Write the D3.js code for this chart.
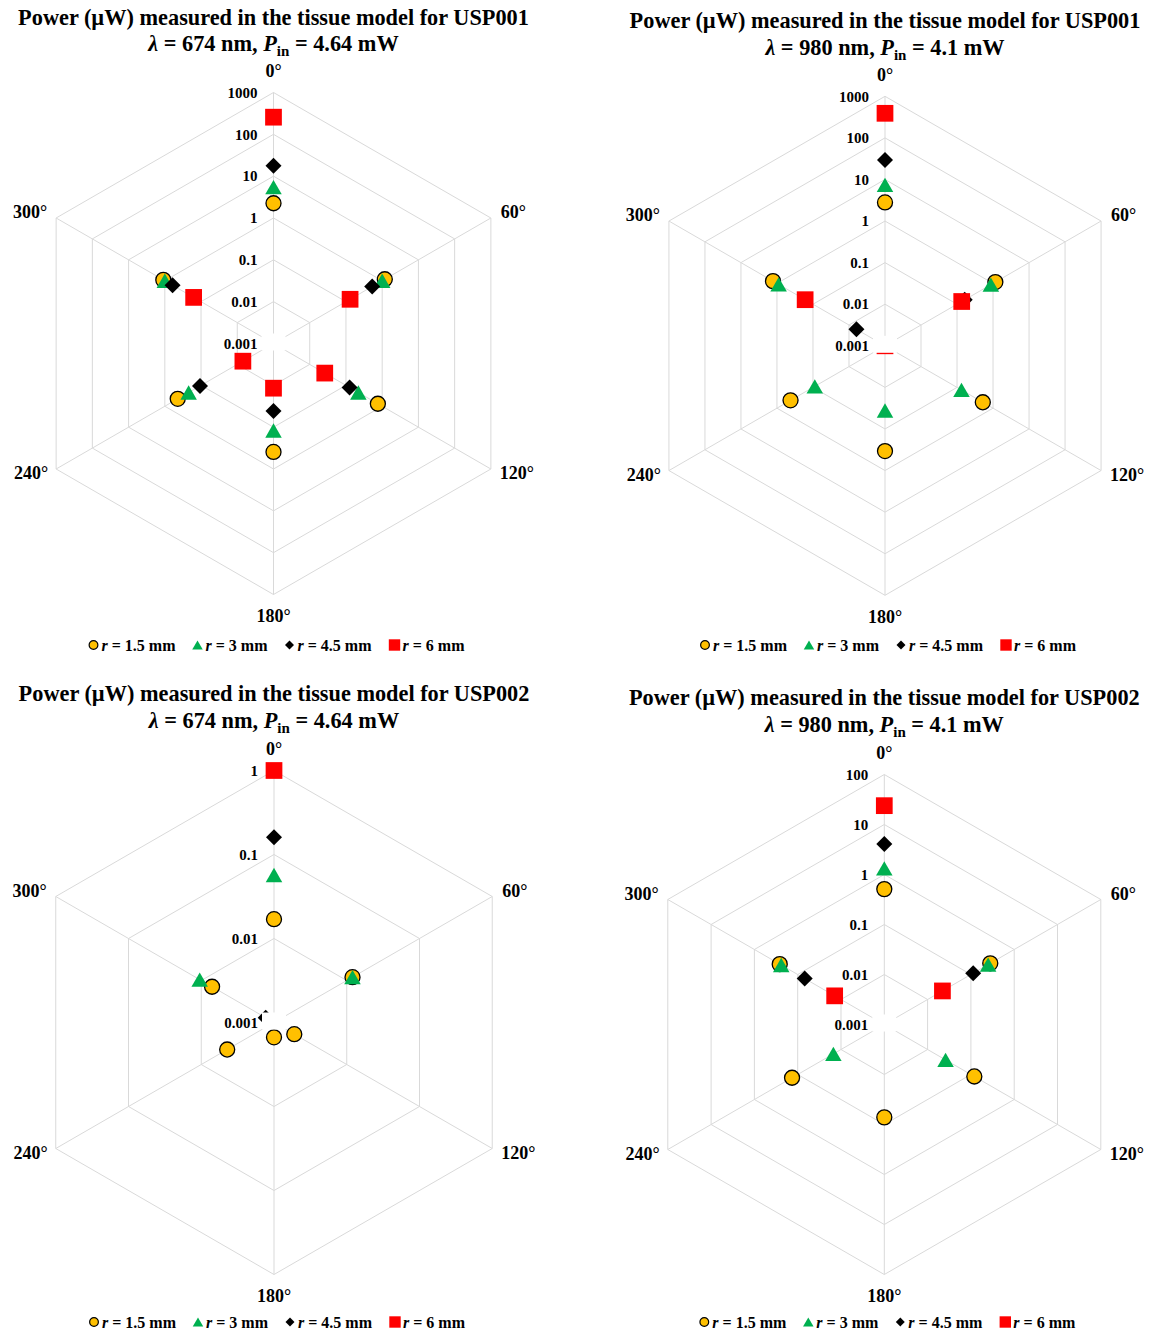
<!DOCTYPE html>
<html><head><meta charset="utf-8">
<script src="https://cdn.jsdelivr.net/npm/d3@7"></script>
<style>
html,body{margin:0;padding:0;background:#fff;}
svg text{font-family:"Liberation Serif","Times New Roman",serif;font-weight:bold;fill:#000;}
</style></head>
<body>
<svg id="c" width="1151" height="1334"></svg>
<script>
// ---------- data ----------
const angleLabels = ["0°","60°","120°","180°","240°","300°"];
const seriesLabels = ["1.5 mm","3 mm","4.5 mm","6 mm"];
const devices = ["USP001","USP001","USP002","USP002"];
const wavelengths = ["674","980","674","980"];
const inputPowers = ["4.64","4.1","4.64","4.1"];

const ticks001 = [0.001,0.01,0.1,1,10,100,1000];
const tickLabels001 = ["0.001","0.01","0.1","1","10","100","1000"];
const ticks002_674 = [0.001,0.01,0.1,1];
const tickLabels002_674 = ["0.001","0.01","0.1","1"];
const ticks002_980 = [0.001,0.01,0.1,1,10,100];
const tickLabels002_980 = ["0.001","0.01","0.1","1","10","100"];

// values per angle 0,60,120,180,240,300 (µW); null = not shown
const usp001_674_r15 = [2.25, 1.18, 0.76, 0.39, 0.44, 1.1];
const usp001_674_r3  = [5.5, 1.0, 0.22, 0.12, 0.22, 1.0];
const usp001_674_r45 = [17.7, 0.53, 0.126, 0.041, 0.107, 0.61];
const usp001_674_r6  = [257, 0.13, 0.026, 0.0117, 0.007, 0.16];

const usp001_980_r15 = [2.8, 1.16, 0.52, 0.34, 0.42, 1.29];
const usp001_980_r3  = [7.4, 0.87, 0.133, 0.036, 0.089, 0.9];
const usp001_980_r45 = [29.5, 0.163, null, null, null, 0.0062];
const usp001_980_r6  = [390, 0.135, null, 0.001, null, 0.165];

const usp002_674_r15 = [0.017, 0.012, 0.0019, 0.0015, 0.0044, 0.0071];
const usp002_674_r3  = [0.057, 0.012, null, null, null, 0.0105];
const usp002_674_r45 = [0.16, null, null, null, null, 0.0013];
const usp002_674_r6  = [1.0, null, null, null, null, null];

const usp002_980_r15 = [0.51, 0.28, 0.12, 0.072, 0.135, 0.26];
const usp002_980_r3  = [1.33, 0.25, 0.026, null, 0.015, 0.24];
const usp002_980_r45 = [4.07, 0.113, null, null, null, 0.069];
const usp002_980_r6  = [23.8, 0.022, null, null, null, 0.014];

// ---------- styles ----------
const seriesColors = ["#FFC000","#00B050","#000000","#FF0000"];
const seriesShapes = [d3.symbolCircle, d3.symbolTriangle, d3.symbolSquare, d3.symbolSquare];
const seriesSizes = [177, 118, 128, 280];
const seriesRot = [0, 0, 45, 0];
const legendSizes = [60, 48, 40, 130];
// triangle: shift so the bounding box (not centroid) is centred on the point
const triShift = s => Math.sqrt(4 * s / Math.sqrt(3)) * Math.sqrt(3) / 2 / 6;

const charts = [
  {cx:273.5, cy:343.5, R:251, ticks:ticks001, tl:tickLabels001,
   series:[usp001_674_r15,usp001_674_r3,usp001_674_r45,usp001_674_r6], t1:24.5, legY:645},
  {cx:885, cy:345.8, R:249.5, ticks:ticks001, tl:tickLabels001,
   series:[usp001_980_r15,usp001_980_r3,usp001_980_r45,usp001_980_r6], t1:28, legY:645},
  {cx:274, cy:1022.5, R:252, ticks:ticks002_674, tl:tickLabels002_674,
   series:[usp002_674_r15,usp002_674_r3,usp002_674_r45,usp002_674_r6], t1:701, legY:1322},
  {cx:884.3, cy:1024.5, R:250, ticks:ticks002_980, tl:tickLabels002_980,
   series:[usp002_980_r15,usp002_980_r3,usp002_980_r45,usp002_980_r6], t1:705, legY:1322}
];

const svg = d3.select("#c");

charts.forEach((c, ci) => {
  const g = svg.append("g");
  const minV = c.ticks[0], maxV = c.ticks[c.ticks.length-1];
  const r = d3.scaleLog().domain([minV, maxV]).range([0, c.R]).clamp(true);
  const ang = d3.scalePoint().domain(angleLabels).range([0, 300]);
  const pt = (a, rad) => {
    const t = ang(a) * Math.PI / 180;
    return [c.cx + rad * Math.sin(t), c.cy - rad * Math.cos(t)];
  };
  // grid rings
  c.ticks.slice(1).forEach(tv => {
    const pts = angleLabels.map(a => pt(a, r(tv)));
    g.append("path").attr("d", d3.line()(pts) + "Z")
      .attr("fill","none").attr("stroke","#d9d9d9").attr("stroke-width",1);
  });
  // spokes
  angleLabels.forEach(a => {
    const p = pt(a, c.R);
    g.append("line").attr("x1",c.cx).attr("y1",c.cy).attr("x2",p[0]).attr("y2",p[1])
      .attr("stroke","#d9d9d9").attr("stroke-width",1);
  });
  // markers
  c.series.forEach((vals, si) => {
    const sym = d3.symbol().type(seriesShapes[si]).size(seriesSizes[si]);
    const dy = si === 1 ? triShift(seriesSizes[si]) : 0;
    g.append("g").selectAll("path")
      .data(angleLabels.map((a,i)=>({a, v:vals[i]})).filter(d => d.v != null))
      .join("path")
      .attr("d", sym)
      .attr("transform", d => {
        const p = pt(d.a, r(d.v));
        return `translate(${p[0]},${p[1] + dy}) rotate(${seriesRot[si]})`;
      })
      .attr("fill", seriesColors[si])
      .attr("stroke", si === 0 ? "#000" : "none")
      .attr("stroke-width", 1.3);
  });
  // white center patch
  g.append("rect").attr("x", c.cx-12).attr("y", c.cy-10).attr("width",24).attr("height",17).attr("fill","#fff");
  // tick labels
  c.ticks.forEach((tv, i) => {
    g.append("text").attr("x", c.cx-16).attr("y", c.cy - r(tv)).attr("dy","0.35em")
      .attr("text-anchor","end").style("font-size","15px").text(c.tl[i]);
  });
  // angle labels
  angleLabels.forEach(a => {
    const p = pt(a, c.R);
    const deg = ang(a);
    let x = p[0], y = p[1], anchor = "middle";
    if (deg === 0) { y -= 22; }
    else if (deg === 180) { y += 21; }
    else if (deg === 60) { x += 10; y -= 6; anchor = "start"; }
    else if (deg === 120) { x += 9; y += 4; anchor = "start"; }
    else if (deg === 240) { x -= 8; y += 4; anchor = "end"; }
    else if (deg === 300) { x -= 9; y -= 6; anchor = "end"; }
    g.append("text").attr("x", x).attr("y", y).attr("dy","0.35em")
      .attr("text-anchor", anchor).style("font-size","18px").text(a);
  });
  // title
  const tx = c.cx;
  g.append("text").attr("x", tx).attr("y", c.t1).attr("text-anchor","middle")
    .style("font-size","22.3px")
    .text(`Power (\u00B5W) measured in the tissue model for ${devices[ci]}`);
  const t2 = g.append("text").attr("x", tx).attr("y", c.t1 + 26.5).attr("text-anchor","middle")
    .style("font-size","22.3px");
  t2.append("tspan").style("font-style","italic").text("\u03BB");
  t2.append("tspan").text(` = ${wavelengths[ci]} nm, `);
  t2.append("tspan").style("font-style","italic").text("P");
  t2.append("tspan").attr("dy", 5).style("font-size","15px").text("in");
  t2.append("tspan").attr("dy", -5).text(` = ${inputPowers[ci]} mW`);
  // legend
  const legOff = [-180, -76, 16, 121];
  seriesLabels.forEach((lab, si) => {
    const mx = c.cx + legOff[si];
    const sym = d3.symbol().type(seriesShapes[si]).size(legendSizes[si]);
    const ldy = si === 1 ? triShift(legendSizes[si]) : 0;
    g.append("path").attr("d", sym)
      .attr("transform", `translate(${mx},${c.legY + ldy}) rotate(${seriesRot[si]})`)
      .attr("fill", seriesColors[si])
      .attr("stroke", si === 0 ? "#000" : "none").attr("stroke-width", 1.2);
    const lt = g.append("text").attr("x", mx + 8).attr("y", c.legY).attr("dy","0.35em")
      .style("font-size","16px");
    lt.append("tspan").style("font-style","italic").text("r");
    lt.append("tspan").text(` = ${lab}`);
  });
});
</script>
</body></html>
